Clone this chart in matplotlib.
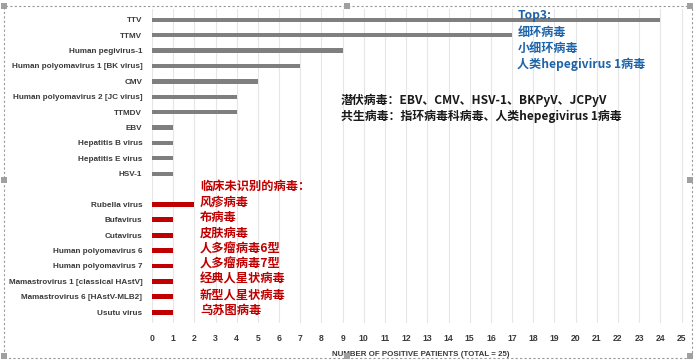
import matplotlib
matplotlib.use("Agg")
import matplotlib.pyplot as plt
from matplotlib.patches import Rectangle

# data
known = ["TTV", "TTMV", "Human pegivirus-1", "Human polyomavirus 1 [BK virus]", "CMV",
         "Human polyomavirus 2 [JC virus]", "TTMDV", "EBV", "Hepatitis B virus",
         "Hepatitis E virus", "HSV-1"]
known_vals = [24, 17, 9, 7, 5, 4, 4, 1, 1, 1, 1]
novel = ["Rubella virus", "Bufavirus", "Cutavirus", "Human polyomavirus 6",
         "Human polyomavirus 7", "Mamastrovirus 1 [classical HAstV]",
         "Mamastrovirus 6 [HAstV-MLB2]", "Usutu virus"]
novel_vals = [2, 1, 1, 1, 1, 1, 1, 1]
novel_cn = ["风疹病毒", "布病毒", "皮肤病毒", "人多瘤病毒6型", "人多瘤病毒7型",
            "经典人星状病毒", "新型人星状病毒", "乌苏图病毒"]
top3 = ["Top3:", "细环病毒", "小细环病毒", "人类hepegivirus 1病毒"]
notes = ["潜伏病毒：EBV、CMV、HSV-1、BKPyV、JCPyV",
         "共生病毒：指环病毒科病毒、人类hepegivirus 1病毒"]
xticks = list(range(0, 26))

cjk = ["Noto Sans CJK SC", "DejaVu Sans"]
lab = dict(fontweight="bold", color="#3a3a3a", family="Liberation Sans")

fig = plt.figure(figsize=(6.97, 3.62), dpi=100)
ax = fig.add_axes([152 / 697, 0.108, 538 / 697, 0.867])

y_known = list(range(len(known)))
y_novel = [len(known) + 1 + i for i in range(len(novel))]

ax.barh(y_known, known_vals, height=0.28, color="#7f7f7f", zorder=3)
ax.barh(y_novel, novel_vals, height=0.32, color="#c00000", zorder=3)

ax.set_yticks(y_known + y_novel)
ax.set_yticklabels(known + novel, fontsize=5.85, **lab)
ax.set_xticks(xticks)
ax.set_xticklabels([str(t) for t in xticks], fontsize=6.2, **lab)
ax.set_xlim(0, 25.4)
ax.set_ylim(19.7, -0.7)
ax.tick_params(length=0, pad=7)
ax.tick_params(axis="x", pad=8)
for s in ax.spines.values():
    s.set_visible(False)
ax.grid(axis="x", color="#e6e6e6", lw=0.8, zorder=0)
ax.set_xlabel("NUMBER OF POSITIVE PATIENTS (TOTAL = 25)", fontsize=5.7, fontweight="bold",
              color="#3a3a3a", family="Liberation Sans", labelpad=6)

# annotations
for i, t in enumerate(top3):
    ax.text(17.25, -0.25 + i * 1.05, t, color="#1f63a8", fontsize=8.7, fontweight="bold",
            family=cjk, va="center", ha="left", zorder=4)
for i, t in enumerate(notes):
    ax.text(8.9, 5.25 + i * 1.05, t, color="#1a1a1a", fontsize=8.6, fontweight="bold",
            family=cjk, va="center", ha="left", zorder=4)
ax.text(2.27, 10.8, "临床未识别的病毒：", color="#c00000", fontsize=8.8, fontweight="bold",
        family=cjk, va="center", ha="left", zorder=4)
for y, t in zip(y_novel, novel_cn):
    ax.text(2.27, y - 0.12, t, color="#c00000", fontsize=8.8, fontweight="bold",
            family=cjk, va="center", ha="left", zorder=4)

# selection frame around the picture
W, H = 697, 362
fig.patches.append(Rectangle((4 / W, 1 - 358 / H), 688 / W, 352 / H, transform=fig.transFigure,
                             fill=False, ec="#9a9a9a", lw=0.8, ls=(0, (2, 2))))
for px, py in [(4, 6), (347, 6), (690, 6), (4, 180), (690, 180), (4, 356), (347, 356), (690, 356)]:
    fig.patches.append(Rectangle(((px - 3) / W, 1 - (py + 3) / H), 6 / W, 6 / H,
                                 transform=fig.transFigure, fc="#a0a0a0", ec="none"))

fig.savefig("out.png", dpi=100)
